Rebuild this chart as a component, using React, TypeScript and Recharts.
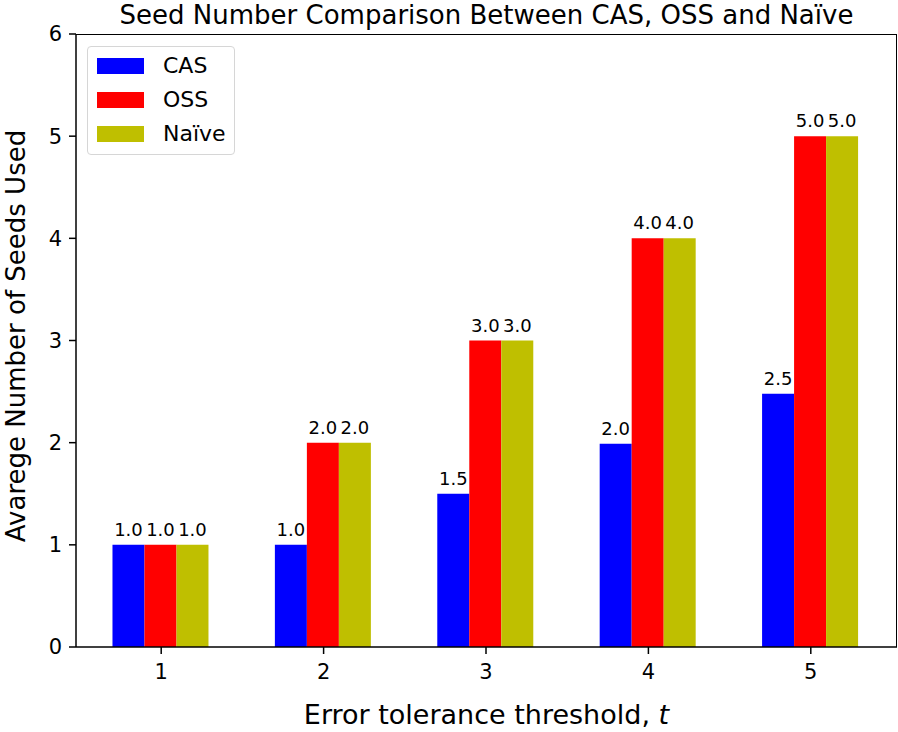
import React from 'react';
import { BarChart, Bar, XAxis, YAxis, LabelList } from 'recharts';

const categories = ['1', '2', '3', '4', '5'];
const casValues = [1.0, 1.0, 1.5, 1.99, 2.48];
const ossValues = [1.0, 2.0, 3.0, 4.0, 5.0];
const naiveValues = [1.0, 2.0, 3.0, 4.0, 5.0];
const yTicks = [0, 1, 2, 3, 4, 5, 6];

const series = [
  { key: 'cas', name: 'CAS', color: '#0000ff' },
  { key: 'oss', name: 'OSS', color: '#ff0000' },
  { key: 'naive', name: 'Naïve', color: '#bfbf00' },
];

const data = categories.map((t, i) => ({
  t,
  cas: casValues[i],
  oss: ossValues[i],
  naive: naiveValues[i],
}));

const FONT = '"DejaVu Sans", sans-serif';

// plot box in page pixels
const PLOT = { left: 76, top: 34, width: 821, height: 613 };

const LegendBox = () => (
  <div
    style={{
      position: 'absolute',
      left: 87,
      top: 46,
      width: 148,
      height: 109,
      boxSizing: 'border-box',
      border: '1.5px solid #d6d6d6',
      borderRadius: 4,
      background: 'rgba(255,255,255,0.8)',
      fontFamily: FONT,
      fontSize: 22,
    }}
  >
    {series.map((s, i) => (
      <div
        key={s.key}
        style={{ position: 'absolute', left: 9, top: 11 + i * 34, height: 16, display: 'flex', alignItems: 'center' }}
      >
        <div style={{ width: 47, height: 16, background: s.color }} />
        <span style={{ marginLeft: 19, lineHeight: '16px' }}>{s.name}</span>
      </div>
    ))}
  </div>
);

export default function App() {
  return (
    <div style={{ position: 'absolute', left: 0, top: 0, width: 898, height: 732, background: '#fff', fontFamily: FONT }}>
      <div
        style={{
          position: 'absolute',
          left: PLOT.left,
          width: PLOT.width,
          top: 0,
          textAlign: 'center',
          fontSize: 26,
          lineHeight: '30px',
          color: '#000',
          whiteSpace: 'nowrap',
        }}
      >
        Seed Number Comparison Between CAS, OSS and Naïve
      </div>
      <BarChart
        width={898}
        height={732}
        data={data}
        margin={{ top: PLOT.top, right: 1, left: 0, bottom: 0 }}
        barCategoryGap="20%"
        barGap={0}
      >
        <XAxis
          dataKey="t"
          height={85}
          padding={{ left: 4, right: 5 }}
          axisLine={{ stroke: '#000', strokeWidth: 1.5 }}
          tickLine={{ stroke: '#000', strokeWidth: 1.5 }}
          tickSize={7}
          tickMargin={10}
          tick={{ fill: '#000', fontSize: 21, fontFamily: FONT }}
        />
        <YAxis
          width={PLOT.left}
          domain={[0, 6]}
          ticks={yTicks}
          allowDataOverflow
          axisLine={{ stroke: '#000', strokeWidth: 1.5 }}
          tickLine={{ stroke: '#000', strokeWidth: 1.5 }}
          tickSize={7}
          tickMargin={7}
          tick={{ fill: '#000', fontSize: 21, fontFamily: FONT }}
        />
        {series.map((s) => (
          <Bar key={s.key} dataKey={s.key} name={s.name} fill={s.color} isAnimationActive={false}>
            <LabelList
              dataKey={s.key}
              position="top"
              offset={9}
              formatter={(v: any) => Number(v).toFixed(1)}
              style={{ fill: '#000', fontSize: 18, fontFamily: FONT }}
            />
          </Bar>
        ))}
      </BarChart>
      {/* top and right spines */}
      <div
        style={{
          position: 'absolute',
          left: PLOT.left,
          top: PLOT.top,
          width: PLOT.width,
          height: PLOT.height,
          boxSizing: 'border-box',
          borderTop: '1.5px solid #000',
          borderRight: '1.5px solid #000',
          pointerEvents: 'none',
        }}
      />
      <LegendBox />
      <div
        style={{
          position: 'absolute',
          left: PLOT.left,
          width: PLOT.width,
          top: 699,
          textAlign: 'center',
          fontSize: 27,
          lineHeight: '32px',
          color: '#000',
        }}
      >
        Error tolerance threshold, <i>t</i>
      </div>
      <div
        style={{
          position: 'absolute',
          left: 16,
          top: 336,
          width: 500,
          marginLeft: -250,
          marginTop: -16,
          textAlign: 'center',
          fontSize: 26,
          lineHeight: '32px',
          color: '#000',
          transform: 'rotate(-90deg)',
        }}
      >
        Avarege Number of Seeds Used
      </div>
    </div>
  );
}
